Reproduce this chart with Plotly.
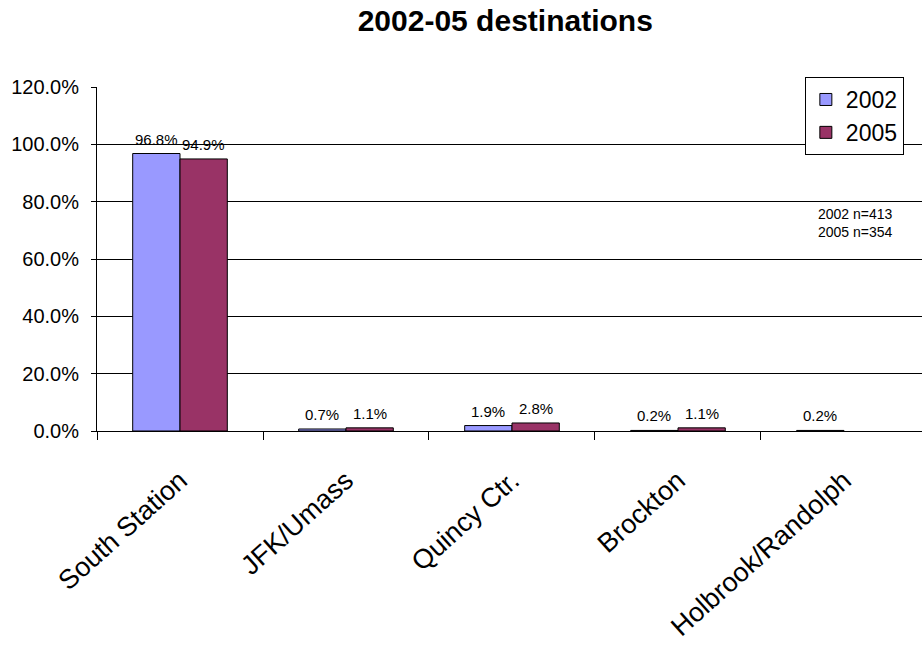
import plotly.graph_objects as go

categories = ["South Station", "JFK/Umass", "Quincy Ctr.", "Brockton", "Holbrook/Randolph"]
values_2002 = [0.968, 0.007, 0.019, 0.002, 0.002]
values_2005 = [0.949, 0.011, 0.028, 0.011, None]
y_ticks = [0, 0.2, 0.4, 0.6, 0.8, 1.0, 1.2]

font_family = "Liberation Sans, Arial, sans-serif"
BARGAP = 0.43
series = [("2002", values_2002, "#9999FF"), ("2005", values_2005, "#993366")]

fig = go.Figure()
for name, vals, color in series:
    fig.add_trace(go.Bar(
        name=name, x=categories, y=vals,
        marker=dict(color=color, line=dict(color="black", width=1)),
    ))

# value labels above bars
half = (1 - BARGAP) / 2
for si, (name, vals, color) in enumerate(series):
    off = (si - 0.5) * half
    for ci, v in enumerate(vals):
        if v is None:
            continue
        fig.add_annotation(x=ci + off, y=v, xref="x", yref="y", text=f"{v*100:.1f}%",
                           showarrow=False, yanchor="bottom", yshift=4,
                           font=dict(size=15, color="black"))

fig.update_layout(
    width=922, height=648,
    margin=dict(l=97, r=0, t=87, b=217),
    paper_bgcolor="white", plot_bgcolor="white",
    font=dict(family=font_family, color="black"),
    title=dict(text="<b>2002-05 destinations</b>", x=0.548, xanchor="center",
               y=0.968, yanchor="middle", font=dict(size=30)),
    barmode="group", bargap=BARGAP, bargroupgap=0,
    legend=dict(x=0.858, y=1.029, xanchor="left", yanchor="top",
                bordercolor="black", borderwidth=1, font=dict(size=23),
                bgcolor="white", itemwidth=30, tracegroupgap=0),
)
fig.update_xaxes(
    range=[-0.5, 4.47], tickangle=-42, tickfont=dict(size=27),
    showline=True, linecolor="black", linewidth=1,
    ticks="outside", tickson="boundaries", ticklen=8, tickcolor="black",
    showgrid=False, ticklabelstandoff=22,
)
fig.update_yaxes(
    range=[0, 1.2], tickvals=y_ticks, tickformat=".1%",
    tickfont=dict(size=20), showgrid=True, gridcolor="black", gridwidth=1,
    showline=True, linecolor="black", linewidth=1,
    ticks="outside", ticklen=5, tickcolor="black", zeroline=False,
    ticklabelstandoff=8,
)
fig.add_annotation(text="2002 n=413<br>2005 n=354", xref="paper", yref="paper",
                   x=(816 - 97) / 825, y=(431 - 223) / 344, xanchor="left", yanchor="middle",
                   align="left", showarrow=False, font=dict(size=14))

fig.write_html("out.html")
